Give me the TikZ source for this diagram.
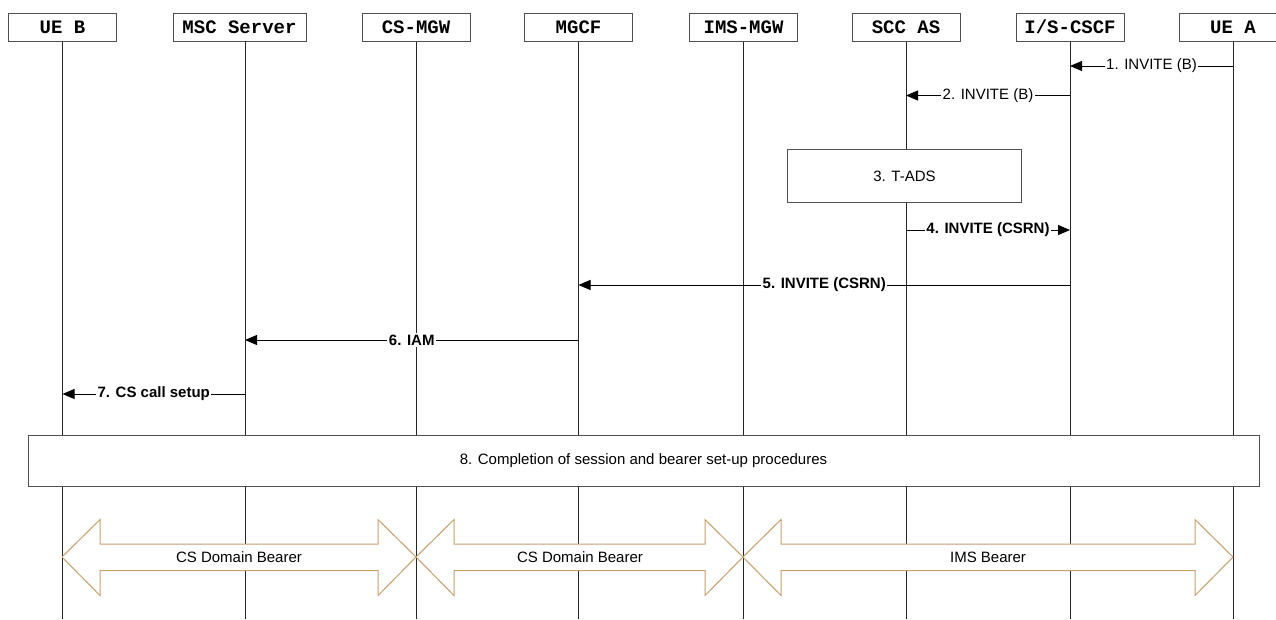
\documentclass[tikz,border=0pt]{standalone}
\usepackage{fontspec}
\setmainfont{Liberation Sans}
\setmonofont{Liberation Mono}
\usetikzlibrary{positioning}
\usetikzlibrary{arrows.meta}
\definecolor{boxgray}{RGB}{80,80,80}
\definecolor{bearertan}{RGB}{196,160,110}
\tikzset{
    entity/.style={
        draw=boxgray,
        line width=1pt,
        minimum width=108pt,
        minimum height=28pt,
        inner sep=0pt,
        text height=12pt,
        text depth=0pt,
        font=\ttfamily\bfseries\fontsize{19}{19}\selectfont},
    lifeline/.style={
        draw=black!85,
        line width=1pt},
    action/.style={
        draw=boxgray,
        fill=white,
        line width=1pt,
        font=\fontsize{15}{15}\selectfont},
    msg/.style={
        draw,
        ->,>={Triangle[length=12pt,width=10pt]},
        line width=1pt},
    msglabel/.style={
        fill=white,
        inner sep=1.5pt,
        font=\fontsize{15}{15}\selectfont},
    boldlabel/.style={
        msglabel,
        font=\bfseries\fontsize{15}{15}\selectfont},
    bearer/.style={
        draw=bearertan,
        fill=white,
        line width=1pt}}

\begin{document}
\begin{tikzpicture}[x=1pt,y=-1pt]
        \useasboundingbox (0,0) rectangle (1276,619);
        \coordinate (bottom) at (0,619);

        \node[entity] (ueb) at (62.5,27) {UE B};
        \node[entity, minimum width=133pt] (msc) at (239.5,27) {MSC Server};
        \node[entity] (csmgw) at (416,27) {CS-MGW};
        \node[entity] (mgcf) at (578.5,27) {MGCF};
        \node[entity] (imsmgw) at (743.5,27) {IMS-MGW};
        \node[entity] (sccas) at (906,27) {SCC AS};
        \node[entity] (cscf) at (1070,27) {I/S-CSCF};
        \node[entity] (uea) at (1233,27) {UE A};
        \coordinate (mscline) at (245,41);

        \draw[lifeline] (ueb) -- (ueb |- bottom);
        \draw[lifeline] (mscline) -- (mscline |- bottom);
        \draw[lifeline] (csmgw) -- (csmgw |- bottom);
        \draw[lifeline] (mgcf) -- (mgcf |- bottom);
        \draw[lifeline] (imsmgw) -- (imsmgw |- bottom);
        \draw[lifeline] (sccas) -- (sccas |- bottom);
        \draw[lifeline] (cscf) -- (cscf |- bottom);
        \draw[lifeline] (uea) -- (uea |- bottom);

        \coordinate (t1) at (0,66);
        \coordinate (t2) at (0,95.5);
        \coordinate (t4) at (0,230);
        \coordinate (t5) at (0,285);
        \coordinate (t6) at (0,340);
        \coordinate (t7) at (0,394);

        \draw[msg] (uea |- t1) -- node[msglabel] {1. INVITE (B)} (cscf |- t1);
        \draw[msg] (cscf |- t2) -- node[msglabel] {2. INVITE (B)} (sccas |- t2);
        \node[action, minimum width=234pt, minimum height=53pt] (tads) at (904.5,176) {3. T-ADS};
        \draw[msg] (sccas |- t4) -- node[boldlabel] {4. INVITE (CSRN)} (cscf |- t4);
        \draw[msg] (cscf |- t5) -- node[boldlabel] {5. INVITE (CSRN)} (mgcf |- t5);
        \draw[msg] (mgcf |- t6) -- node[boldlabel] {6. IAM} (mscline |- t6);
        \draw[msg] (mscline |- t7) -- node[boldlabel] {7. CS call setup} (ueb |- t7);
        \node[action, minimum width=1231pt, minimum height=51pt] (setup) at (643.5,460.5) {8. Completion of session and bearer set-up procedures};

        \draw[bearer] (62,557) -- (100,519.5) -- (100,544) -- (378,544) -- (378,519.5) -- (416,557)
            -- (378,595.5) -- (378,570.5) -- (100,570.5) -- (100,595.5) -- cycle;
        \draw[bearer] (416,557) -- (454,519.5) -- (454,544) -- (705,544) -- (705,519.5) -- (743,557)
            -- (705,595.5) -- (705,570.5) -- (454,570.5) -- (454,595.5) -- cycle;
        \draw[bearer] (743,557) -- (781,519.5) -- (781,544) -- (1195,544) -- (1195,519.5) -- (1233,557)
            -- (1195,595.5) -- (1195,570.5) -- (781,570.5) -- (781,595.5) -- cycle;
        \node[msglabel, fill=none] (csbearer1) at (239,557) {CS Domain Bearer};
        \node[msglabel, fill=none] (csbearer2) at (580,557) {CS Domain Bearer};
        \node[msglabel, fill=none] (imsbearer) at (988,557) {IMS Bearer};
\end{tikzpicture}
\end{document}
